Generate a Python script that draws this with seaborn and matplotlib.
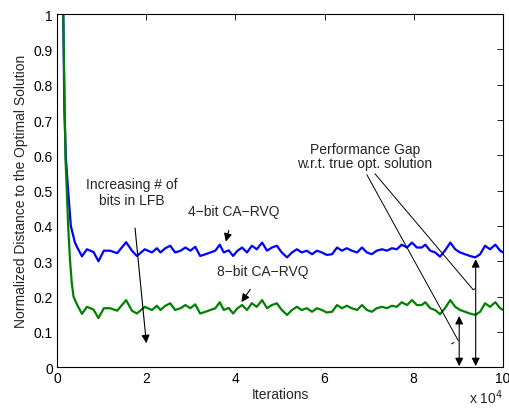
import pandas as pd
import seaborn as sns
import matplotlib
matplotlib.use("Agg")
import matplotlib.pyplot as plt

# iterations (x 10^4) and normalized distance
x_4bit = [0.10, 0.14, 0.165, 0.20, 0.25, 0.31, 0.40, 0.45, 0.56, 0.67, 0.82, 0.93, 1.05, 1.19, 1.35,
          1.55, 1.68, 1.79, 1.97, 2.02, 2.13, 2.24, 2.32, 2.43, 2.54, 2.65, 2.77, 2.88, 2.99, 3.10,
          3.21, 3.33, 3.44, 3.55, 3.65, 3.74, 3.85, 3.95, 4.04, 4.15, 4.26, 4.37, 4.48, 4.60, 4.71,
          4.82, 4.93, 5.04, 5.16, 5.27, 5.38, 5.49, 5.60, 5.72, 5.83, 5.94, 6.05, 6.17, 6.28, 6.39,
          6.50, 6.61, 6.73, 6.84, 6.95, 7.06, 7.17, 7.29, 7.40, 7.51, 7.62, 7.73, 7.85, 7.96, 8.07,
          8.18, 8.26, 8.37, 8.48, 8.59, 8.70, 8.82, 8.93, 9.04, 9.15, 9.26, 9.38, 9.49, 9.60, 9.71,
          9.83, 9.94, 10.0]
y_4bit = [1.10, 1.00, 0.73, 0.59, 0.50, 0.40, 0.354, 0.340, 0.314, 0.334, 0.326, 0.300, 0.330, 0.330, 0.323,
          0.354, 0.330, 0.315, 0.334, 0.331, 0.325, 0.337, 0.325, 0.337, 0.344, 0.325, 0.330, 0.339, 0.330, 0.341,
          0.315, 0.320, 0.325, 0.330, 0.347, 0.325, 0.331, 0.315, 0.329, 0.339, 0.325, 0.344, 0.334, 0.353, 0.330,
          0.339, 0.344, 0.325, 0.311, 0.325, 0.334, 0.325, 0.330, 0.320, 0.330, 0.325, 0.318, 0.320, 0.339, 0.330,
          0.337, 0.330, 0.325, 0.339, 0.325, 0.320, 0.330, 0.334, 0.330, 0.337, 0.334, 0.347, 0.339, 0.353, 0.339,
          0.339, 0.347, 0.330, 0.325, 0.313, 0.330, 0.353, 0.334, 0.325, 0.320, 0.315, 0.311, 0.320, 0.344, 0.334,
          0.347, 0.330, 0.325]

x_8bit = [0.10, 0.14, 0.19, 0.22, 0.25, 0.29, 0.33, 0.37, 0.45, 0.56, 0.67, 0.82, 0.93, 1.05, 1.19,
          1.35, 1.55, 1.68, 1.79, 1.97, 2.02, 2.13, 2.24, 2.32, 2.43, 2.54, 2.65, 2.77, 2.88, 2.99,
          3.10, 3.21, 3.33, 3.44, 3.55, 3.65, 3.74, 3.85, 3.95, 4.04, 4.15, 4.26, 4.37, 4.48, 4.60,
          4.71, 4.82, 4.93, 5.04, 5.16, 5.27, 5.38, 5.49, 5.60, 5.72, 5.83, 5.94, 6.05, 6.17, 6.28,
          6.39, 6.50, 6.61, 6.73, 6.84, 6.95, 7.06, 7.17, 7.29, 7.40, 7.51, 7.62, 7.73, 7.85, 7.96,
          8.07, 8.18, 8.26, 8.37, 8.48, 8.59, 8.70, 8.82, 8.93, 9.04, 9.15, 9.26, 9.38, 9.49, 9.60,
          9.71, 9.83, 9.94, 10.0]
y_8bit = [1.10, 1.00, 0.59, 0.50, 0.40, 0.306, 0.240, 0.200, 0.177, 0.151, 0.171, 0.163, 0.139, 0.167, 0.167,
          0.160, 0.190, 0.160, 0.152, 0.171, 0.168, 0.162, 0.174, 0.162, 0.174, 0.181, 0.162, 0.167, 0.176, 0.167,
          0.178, 0.152, 0.157, 0.162, 0.167, 0.184, 0.162, 0.168, 0.152, 0.166, 0.176, 0.162, 0.181, 0.171, 0.190,
          0.167, 0.176, 0.181, 0.162, 0.148, 0.162, 0.171, 0.162, 0.167, 0.157, 0.167, 0.162, 0.155, 0.157, 0.176,
          0.167, 0.174, 0.167, 0.162, 0.176, 0.162, 0.157, 0.167, 0.171, 0.167, 0.174, 0.171, 0.184, 0.176, 0.190,
          0.176, 0.176, 0.184, 0.167, 0.162, 0.150, 0.167, 0.190, 0.171, 0.162, 0.157, 0.152, 0.148, 0.157, 0.181,
          0.171, 0.184, 0.167, 0.162]

df = pd.concat([
    pd.DataFrame({"iter": x_4bit, "dist": y_4bit, "scheme": "4-bit CA-RVQ"}),
    pd.DataFrame({"iter": x_8bit, "dist": y_8bit, "scheme": "8-bit CA-RVQ"}),
])

fs = 10
sns.set_style("white")
plt.rcParams["font.family"] = ["Liberation Sans", "DejaVu Sans"]
plt.rcParams["font.size"] = fs

fig = plt.figure(figsize=(5.09, 4.10), dpi=100)
ax = fig.add_axes([0.112, 0.102, 0.876, 0.861])

sns.lineplot(data=df, x="iter", y="dist", hue="scheme", palette=["#0000ff", "#008000"],
             linewidth=1.6, legend=False, ax=ax)

ax.set_xlim(0, 10)
ax.set_ylim(0, 1)
ax.set_xticks(range(0, 11, 2))
ax.set_yticks([i / 10 for i in range(11)])
ax.set_yticklabels(["0"] + [f"{i / 10:.1f}" for i in range(1, 10)] + ["1"])
ax.tick_params(direction="in", top=True, right=True, length=4, width=0.6, labelsize=fs, colors="black", pad=3)
for s in ax.spines.values():
    s.set_linewidth(0.8)
    s.set_color("black")
ax.set_xlabel("Iterations", fontsize=fs, labelpad=1)
ax.set_ylabel("Normalized Distance to the Optimal Solution", fontsize=fs, labelpad=4)
ax.text(1.0, -0.102, r"x 10$^4$", transform=ax.transAxes, ha="right", va="baseline", fontsize=fs)

arrow = dict(arrowstyle="-|>", color="black", lw=0.8, mutation_scale=12)
ax.annotate("Increasing # of\nbits in LFB", xy=(2.01, 0.06), xytext=(1.67, 0.497),
            ha="center", va="center", arrowprops=dict(arrow, shrinkA=13), fontsize=fs)
ax.annotate("4\u2212bit CA\u2212RVQ", xy=(3.77, 0.348), xytext=(3.97, 0.443),
            ha="center", va="center", arrowprops=dict(arrow, shrinkA=7), fontsize=fs)
ax.annotate("8\u2212bit CA\u2212RVQ", xy=(4.10, 0.178), xytext=(4.62, 0.272),
            ha="center", va="center", arrowprops=dict(arrow, shrinkA=7), fontsize=fs)

ax.text(6.9, 0.598, "Performance Gap\nw.r.t. true opt. solution", ha="center", va="center",
        fontsize=fs, linespacing=1.0)
ax.plot([6.95, 9.0], [0.545, 0.075], color="black", lw=0.7)
ax.plot([7.13, 9.33], [0.548, 0.220], color="black", lw=0.7)
ax.plot([9.33, 9.38], [0.220, 0.222], color="black", lw=0.7)
ax.plot([8.85, 8.90], [0.066, 0.070], color="black", lw=0.7)

dbl = dict(arrowstyle="<|-|>", color="black", lw=0.8, mutation_scale=12, shrinkA=0, shrinkB=0)
ax.annotate("", xy=(9.02, 0.145), xytext=(9.02, 0.003), arrowprops=dbl)
ax.annotate("", xy=(9.39, 0.306), xytext=(9.39, 0.003), arrowprops=dbl)

fig.savefig("out.png", dpi=100)
